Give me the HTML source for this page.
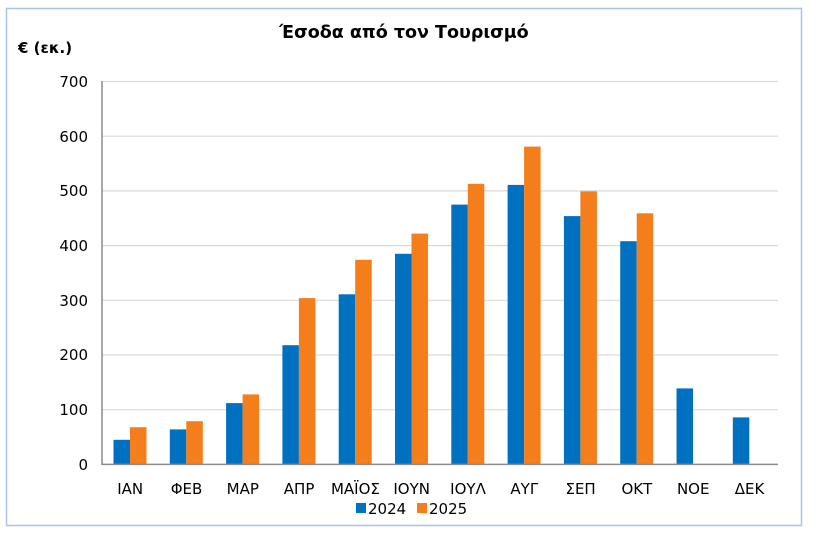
<!DOCTYPE html>
<html><head><meta charset="utf-8"><style>
body{margin:0;background:#fff;width:816px;height:536px;overflow:hidden}
svg text{font-family:"DejaVu Sans","Liberation Sans",sans-serif;fill:#000}
</style></head><body>
<svg width="816" height="536" xmlns="http://www.w3.org/2000/svg">
<rect x="6.5" y="8.5" width="795" height="517" fill="#fff" stroke="#a9c4e6" stroke-width="1.5"/>
<text x="404" y="38" text-anchor="middle" font-size="17.5" font-weight="bold">Έσοδα από τον Τουρισμό</text>
<text x="18" y="53" font-size="15" font-weight="bold">€ (εκ.)</text>
<g stroke="#d9d9d9" stroke-width="1.2">
<line x1="102" x2="778" y1="81.5" y2="81.5"/><line x1="102" x2="778" y1="136.2" y2="136.2"/>
<line x1="102" x2="778" y1="190.9" y2="190.9"/><line x1="102" x2="778" y1="245.6" y2="245.6"/>
<line x1="102" x2="778" y1="300.3" y2="300.3"/><line x1="102" x2="778" y1="355" y2="355"/>
<line x1="102" x2="778" y1="409.7" y2="409.7"/>
</g>
<g font-size="15" text-anchor="end">
<text x="88" y="87">700</text><text x="88" y="142">600</text><text x="88" y="196">500</text>
<text x="88" y="251">400</text><text x="88" y="306">300</text><text x="88" y="360">200</text>
<text x="88" y="415">100</text><text x="88" y="470">0</text>
</g>
<g fill="#0070c0">
<rect x="113.5" y="439.8" width="16.5" height="24.6"/>
<rect x="169.8" y="429.4" width="16.5" height="35.0"/>
<rect x="226.1" y="403.1" width="16.5" height="61.3"/>
<rect x="282.4" y="345.2" width="16.5" height="119.2"/>
<rect x="338.7" y="294.3" width="16.5" height="170.1"/>
<rect x="395.0" y="253.8" width="16.5" height="210.6"/>
<rect x="451.3" y="204.6" width="16.5" height="259.8"/>
<rect x="507.6" y="184.9" width="16.5" height="279.5"/>
<rect x="563.9" y="216.1" width="16.5" height="248.3"/>
<rect x="620.2" y="241.2" width="16.5" height="223.2"/>
<rect x="676.5" y="388.4" width="16.5" height="76.0"/>
<rect x="732.8" y="417.4" width="16.5" height="47.0"/>
</g>
<g fill="#f47d1c">
<rect x="130" y="427.2" width="16.5" height="37.2"/>
<rect x="186.3" y="421.2" width="16.5" height="43.2"/>
<rect x="242.6" y="394.4" width="16.5" height="70.0"/>
<rect x="298.9" y="298.1" width="16.5" height="166.3"/>
<rect x="355.2" y="259.8" width="16.5" height="204.6"/>
<rect x="411.5" y="233.6" width="16.5" height="230.8"/>
<rect x="467.8" y="183.8" width="16.5" height="280.6"/>
<rect x="524.1" y="146.6" width="16.5" height="317.8"/>
<rect x="580.4" y="191.4" width="16.5" height="273.0"/>
<rect x="636.7" y="213.3" width="16.5" height="251.1"/>
</g>
<line x1="102" x2="102" y1="81" y2="465" stroke="#8c8c8c" stroke-width="1.5"/>
<line x1="102" x2="778" y1="464.4" y2="464.4" stroke="#8c8c8c" stroke-width="1.5"/>
<g font-size="15" text-anchor="middle">
<text x="130.2" y="494">ΙΑΝ</text><text x="186.5" y="494">ΦΕΒ</text><text x="242.8" y="494">ΜΑΡ</text>
<text x="299.1" y="494">ΑΠΡ</text><text x="355.4" y="494">ΜΑΪΟΣ</text><text x="411.7" y="494">ΙΟΥΝ</text>
<text x="468.0" y="494">ΙΟΥΛ</text><text x="524.3" y="494">ΑΥΓ</text><text x="580.6" y="494">ΣΕΠ</text>
<text x="636.9" y="494">ΟΚΤ</text><text x="693.2" y="494">ΝΟΕ</text><text x="749.5" y="494">ΔΕΚ</text>
</g>
<rect x="356" y="503" width="10" height="10" fill="#0070c0"/>
<text x="368" y="514" font-size="15">2024</text>
<rect x="417" y="503" width="10" height="10" fill="#f47d1c"/>
<text x="429" y="514" font-size="15">2025</text>
</svg>
</body></html>
